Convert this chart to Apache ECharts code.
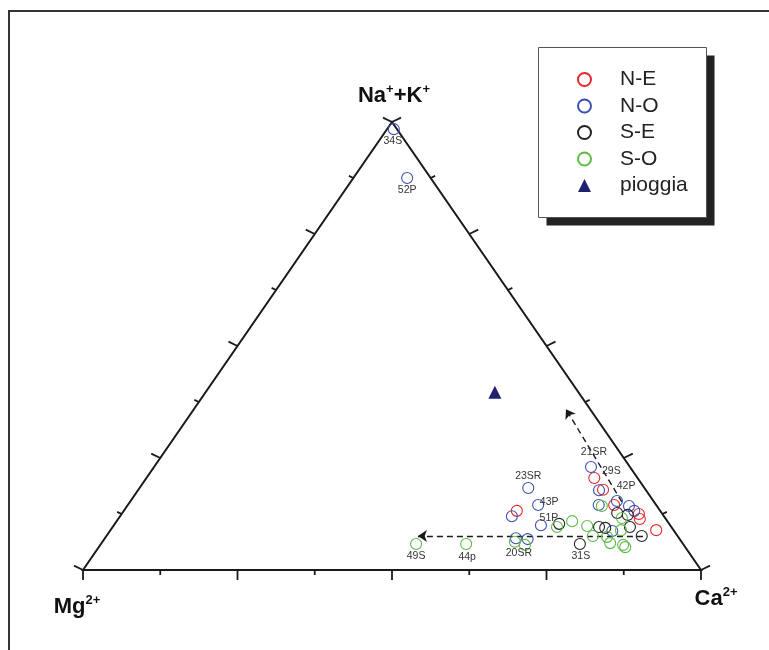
<!DOCTYPE html>
<html>
<head>
<meta charset="utf-8">
<title>Diagramma ternario cationi</title>
<script src="https://cdn.jsdelivr.net/npm/echarts@6/dist/echarts.min.js"></script>
<style>
  html, body { margin: 0; padding: 0; background: #fff; }
  #chart { width: 769px; height: 650px; }
</style>
</head>
<body>
<div id="chart"></div>
<script>
// composizioni in % : [Ca2+, Mg2+, Na+ + K+]
var vertexComps = [[0, 100, 0], [100, 0, 0], [0, 0, 100]]; // Mg, Ca, Na+K
var vertexLabels = ['{b|Mg}{s|2+}', '{b|Ca}{s|2+}', '{b|Na}{s|+}{b|+K}{s|+}'];
var groupNames = ['N-E', 'N-O', 'S-E', 'S-O', 'pioggia'];

var neValues = [
  [72.4, 7.0, 20.5], [75.2, 6.9, 17.9], [63.6, 23.2, 13.2], [78.7, 6.8, 14.5],
  [83.7, 3.8, 12.5], [84.4, 4.2, 11.4], [88.3, 2.8, 8.9]
];
var neLabels = ['29S', '42P', '', '', '', '', ''];

var noValues = [
  [1.1, 0.5, 98.4], [8.7, 3.8, 87.5], [70.7, 6.3, 23.0], [62.9, 18.8, 18.3],
  [66.4, 19.1, 14.5], [63.4, 24.6, 12.0], [69.1, 20.9, 10.0], [66.5, 26.4, 7.1],
  [68.5, 24.6, 6.9], [74.6, 7.6, 17.8], [76.2, 9.3, 14.5], [78.7, 5.9, 15.4],
  [81.2, 4.5, 14.3], [82.6, 4.2, 13.2], [81.3, 10.0, 8.7]
];
var noLabels = ['34S', '52P', '21SR', '23SR', '43P', '', '51P', '', '', '', '', '', '', '', ''];

var seValues = [
  [77.5, 16.7, 5.8], [71.9, 17.8, 10.3], [78.7, 11.7, 9.6], [79.8, 10.8, 9.4],
  [80.0, 7.2, 12.7], [82.0, 5.7, 12.3], [83.7, 6.7, 9.6], [86.7, 5.8, 7.6]
];
var seLabels = ['31S', '', '', '', '', '', '', ''];

var soValues = [
  [51.0, 43.2, 5.8], [59.1, 35.1, 5.8], [66.8, 27.0, 6.3], [68.7, 25.7, 5.6],
  [71.9, 18.5, 9.6], [73.7, 15.4, 10.9], [76.6, 13.5, 9.8], [78.7, 13.7, 7.6],
  [76.8, 8.9, 14.3], [81.4, 7.0, 11.6], [82.6, 8.5, 8.9], [81.1, 11.5, 7.4],
  [82.3, 11.7, 6.0], [84.6, 9.8, 5.6], [85.1, 9.7, 5.1]
];
var soLabels = ['49S', '44p', '20SR', '', '', '', '', '', '', '', '', '', '', '', ''];

var rainValues = [[46.8, 13.5, 39.7]];

// frecce di tendenza (da -> a)
var trendArrows = [
  [[86.8, 5.6, 7.6], [50.4, 42.0, 7.6]],
  [[79.6, 5.2, 15.2], [60.2, 3.9, 35.9]]
];

var tickSteps = 8;

var FONT = '"Liberation Sans", Arial, sans-serif';

// spostamento delle etichette dei campioni (px)
var labelOffset = {
  '34S': [-1, 12], '52P': [0, 12], '49S': [0, 12], '44p': [1, 13],
  '20SR': [4, 11], '31S': [1, 12], '23SR': [0, -12], '21SR': [3, -15],
  '43P': [11, -3], '51P': [8, -7], '29S': [17, -7], '42P': [23, -4]
};
var vertexOffset = [[-6, 37], [15, 29], [2, -26]];

// ternario -> piano (x: 0..1, y: 0..1)
function toXY(c) {
  var s = c[0] + c[1] + c[2];
  var ca = c[0] / s, nak = c[2] / s;
  return [ca + nak / 2, nak];
}

function groupSeries(name, values, labels, color) {
  return {
    name: name,
    type: 'scatter',
    symbol: 'circle',
    symbolSize: 11,
    itemStyle: { color: 'rgba(255,255,255,0)', borderColor: color, borderWidth: 1.1, opacity: 1 },
    emphasis: { disabled: true },
    z: 3,
    data: values.map(function (c, i) {
      var item = { value: toXY(c) };
      var t = labels[i];
      if (t) {
        item.label = {
          show: true, formatter: t, position: 'inside', offset: labelOffset[t],
          color: '#333', fontSize: 10.5, fontFamily: FONT
        };
      }
      return item;
    })
  };
}

var chart = echarts.init(document.getElementById('chart'));

var option = {
  animation: false,
  backgroundColor: '#fff',
  grid: { left: 83, right: 68, top: 122, bottom: 80 },
  xAxis: { type: 'value', min: 0, max: 1, show: false },
  yAxis: { type: 'value', min: 0, max: 1, show: false },
  graphic: [
    {
      type: 'rect', silent: true, z: -10,
      shape: { x: 9, y: 11, width: 800, height: 700 },
      style: { fill: 'none', stroke: '#333', lineWidth: 2 }
    },
    {
      // ombra del riquadro legenda
      type: 'rect', silent: true, z: 0,
      shape: { x: 546.5, y: 55.5, width: 168, height: 170 },
      style: { fill: '#222' }
    },
    {
      type: 'rect', silent: true, z: 1,
      shape: { x: 538.5, y: 47.5, width: 168, height: 170 },
      style: { fill: '#fff', stroke: '#555', lineWidth: 1 }
    }
  ],
  legend: {
    data: groupNames,
    orient: 'vertical',
    left: 577,
    top: 69,
    padding: 0,
    itemGap: 5.5,
    itemWidth: 13,
    itemHeight: 13,
    selectedMode: false,
    z: 10,
    textStyle: { fontSize: 21, color: '#222', fontFamily: FONT, padding: [0, 0, 0, 24] }
  },
  series: [
    {
      name: 'frame',
      type: 'custom',
      silent: true,
      z: 1,
      data: [[0, 0]],
      renderItem: function (params, api) {
        var P = vertexComps.map(function (c) { return toXY(c); });
        var px = P.map(function (p) { return api.coord(p); });
        var children = [{
          type: 'polygon',
          shape: { points: px },
          style: { fill: 'none', stroke: '#1a1a1a', lineWidth: 2 }
        }];
        // lati: base Mg->Ca, sinistro Mg->Na+K, destro Ca->Na+K
        var edges = [[0, 1, [0, 1]], [0, 2, [-0.9007, -0.4344]], [1, 2, [0.9007, -0.4344]]];
        edges.forEach(function (e) {
          var a = P[e[0]], b = P[e[1]], d = e[2];
          for (var i = 0; i <= tickSteps; i++) {
            var t = i / tickSteps;
            var q = api.coord([a[0] + t * (b[0] - a[0]), a[1] + t * (b[1] - a[1])]);
            var len = i % 2 === 0 ? 10 : 5;
            children.push({
              type: 'line',
              shape: { x1: q[0], y1: q[1], x2: q[0] + d[0] * len, y2: q[1] + d[1] * len },
              style: { stroke: '#1a1a1a', lineWidth: 1.8 }
            });
          }
        });
        return { type: 'group', children: children };
      }
    },
    {
      name: 'tendenze',
      type: 'lines',
      coordinateSystem: 'cartesian2d',
      silent: true,
      z: 2,
      symbol: ['none', 'arrow'],
      symbolSize: 9,
      lineStyle: { color: '#1a1a1a', width: 1.4, type: [6, 4], opacity: 1 },
      data: trendArrows.map(function (a) { return { coords: [toXY(a[0]), toXY(a[1])] }; })
    },
    {
      name: 'vertici',
      type: 'scatter',
      silent: true,
      symbolSize: 0,
      itemStyle: { opacity: 1 },
      data: vertexComps.map(function (c, i) {
        return {
          value: toXY(c),
          label: {
            show: true, position: 'inside', offset: vertexOffset[i],
            formatter: vertexLabels[i]
          }
        };
      }),
      label: {
        rich: {
          b: { fontSize: 22, fontWeight: 'bold', color: '#111', fontFamily: FONT, lineHeight: 26 },
          s: { fontSize: 13, fontWeight: 'bold', color: '#111', fontFamily: FONT, lineHeight: 26, verticalAlign: 'top' }
        }
      }
    },
    groupSeries('N-E', neValues, neLabels, '#e8262b'),
    groupSeries('N-O', noValues, noLabels, '#3c4fb0'),
    groupSeries('S-E', seValues, seLabels, '#222222'),
    groupSeries('S-O', soValues, soLabels, '#5dbb46'),
    {
      name: 'pioggia',
      type: 'scatter',
      symbol: 'triangle',
      symbolSize: 13,
      itemStyle: { color: '#1f216e', opacity: 1 },
      emphasis: { disabled: true },
      z: 3,
      data: rainValues.map(toXY)
    }
  ]
};

chart.setOption(option);
</script>
</body>
</html>
